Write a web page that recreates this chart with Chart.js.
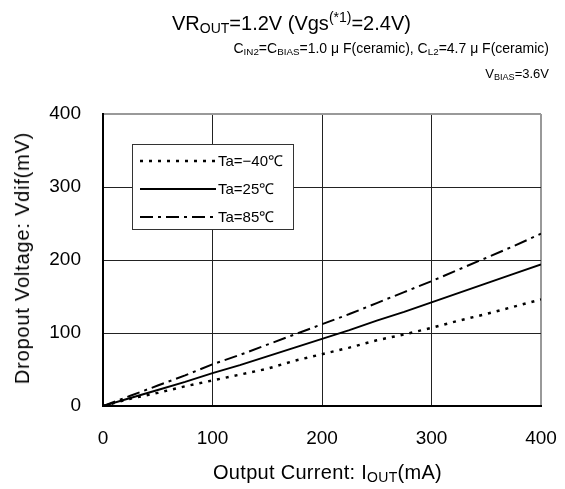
<!DOCTYPE html>
<html>
<head>
<meta charset="utf-8">
<script src="https://cdn.jsdelivr.net/npm/chart.js@4"></script>
<style>
  body { margin: 0; background: #fff; font-family: "Liberation Sans", Arial, sans-serif; }
  #wrap { position: relative; width: 565px; height: 489px; }
  #chart { position: absolute; left: 0; top: 0; }
  .txt { position: absolute; white-space: nowrap; color: #000; line-height: 1; }
  .txt sub { font-size: 0.7em; vertical-align: -0.2em; }
  .txt sup { font-size: 0.7em; vertical-align: 0.6em; }
  #title { left: 172px; top: 10px; font-size: 20px; }
  #sub1 { right: 16px; top: 41px; font-size: 14px; }
  #sub2 { right: 16px; top: 67px; font-size: 13px; }
  #xtitle { left: 213px; top: 462px; font-size: 20px; letter-spacing: 0.3px; }
  #ytitle { left: 22px; top: 258px; font-size: 20px; letter-spacing: 0.8px; transform: translate(-50%, -50%) rotate(-90deg); }
</style>
</head>
<body>
<div id="wrap">
  <canvas id="chart" width="565" height="489"></canvas>
  <div class="txt" id="title">VR<sub>OUT</sub>=1.2V (Vgs<sup>(*1)</sup>=2.4V)</div>
  <div class="txt" id="sub1">C<sub>IN2</sub>=C<sub>BIAS</sub>=1.0 μ F(ceramic), C<sub>L2</sub>=4.7 μ F(ceramic)</div>
  <div class="txt" id="sub2">V<sub>BIAS</sub>=3.6V</div>
  <div class="txt" id="xtitle">Output Current: I<sub>OUT</sub>(mA)</div>
  <div class="txt" id="ytitle">Dropout Voltage: Vdif(mV)</div>
</div>
<script>
// output current (mA)
const currents = [0, 25, 50, 75, 100, 125, 150, 175, 200, 225, 250, 275, 300, 325, 350, 375, 400];
// dropout voltage (mV) per temperature
const vdifMinus40 = [0, 10, 18, 27, 35, 43, 51, 62, 71, 80, 90, 98, 107, 117, 126, 136, 146];
const vdif25 = [0, 11, 22, 33, 45, 56, 68, 80, 92, 104, 117, 129, 142, 155, 168, 181, 194];
const vdif85 = [0, 14, 28, 42, 57, 70, 84, 98, 112, 126, 141, 156, 171, 187, 203, 219, 236];
const seriesLabels = ['Ta=\u221240\u2103', 'Ta=25\u2103', 'Ta=85\u2103'];
const xTicks = [0, 100, 200, 300, 400];
const yTicks = [0, 100, 200, 300, 400];

const pts = arr => currents.map((c, i) => ({ x: c, y: arr[i] }));

// legend box drawn inside the plot, upper left
const boxLegend = {
    id: 'boxLegend',
    afterDatasetsDraw(chart) {
        const ctx = chart.ctx;
        const x0 = 132, y0 = 144, w = 161, h = 85;
        ctx.save();
        ctx.fillStyle = '#fff';
        ctx.fillRect(x0, y0, w, h);
        ctx.strokeStyle = '#333';
        ctx.lineWidth = 1;
        ctx.strokeRect(x0 + 0.5, y0 + 0.5, w, h);
        chart.data.datasets.forEach((ds, i) => {
            const y = 161 + i * 28;
            ctx.strokeStyle = '#000';
            ctx.lineWidth = ds.borderWidth;
            ctx.setLineDash(ds.borderDash || []);
            ctx.beginPath();
            ctx.moveTo(140, y);
            ctx.lineTo(216, y);
            ctx.stroke();
            ctx.setLineDash([]);
            ctx.fillStyle = '#000';
            ctx.font = '15px "Liberation Sans", Arial, sans-serif';
            ctx.textBaseline = 'middle';
            ctx.fillText(ds.label, 218, y + 1);
        });
        ctx.restore();
    }
};

const edgeColor = (ctx, last) => ctx.index === last ? '#999' : '#222';

new Chart(document.getElementById('chart').getContext('2d'), {
    type: 'line',
    data: {
        datasets: [
            { label: seriesLabels[0], data: pts(vdifMinus40), borderColor: '#000', borderWidth: 2.5, borderDash: [3, 6] },
            { label: seriesLabels[1], data: pts(vdif25), borderColor: '#000', borderWidth: 2 },
            { label: seriesLabels[2], data: pts(vdif85), borderColor: '#000', borderWidth: 2, borderDash: [13, 5, 3, 5] }
        ]
    },
    options: {
        responsive: false,
        animation: false,
        events: [],
        layout: { padding: { top: 114, right: 24, bottom: 0, left: 0 } },
        elements: { point: { radius: 0 }, line: { tension: 0 } },
        plugins: { legend: { display: false }, tooltip: { enabled: false } },
        scales: {
            x: {
                type: 'linear', min: 0, max: 400,
                afterFit: s => { s.height = 83; s.paddingLeft = 0; s.paddingRight = 0; },
                afterBuildTicks: s => { s.ticks = xTicks.map(v => ({ value: v })); },
                grid: { drawTicks: false, color: c => edgeColor(c, 4), lineWidth: c => c.index === 4 ? 2 : 1 },
                border: { color: '#000', width: 2 },
                ticks: { padding: 21, color: '#000', font: { size: 19, family: '"Liberation Sans", Arial, sans-serif' }, maxRotation: 0 }
            },
            y: {
                min: 0, max: 400,
                afterFit: s => { s.width = 103; s.paddingTop = 0; s.paddingBottom = 0; },
                afterBuildTicks: s => { s.ticks = yTicks.map(v => ({ value: v })); },
                grid: { drawTicks: false, color: c => edgeColor(c, 4), lineWidth: c => c.index === 4 ? 2 : 1 },
                border: { color: '#000', width: 2 },
                ticks: { padding: 22, color: '#000', font: { size: 19, family: '"Liberation Sans", Arial, sans-serif' } }
            }
        }
    },
    plugins: [boxLegend]
});
</script>
</body>
</html>
